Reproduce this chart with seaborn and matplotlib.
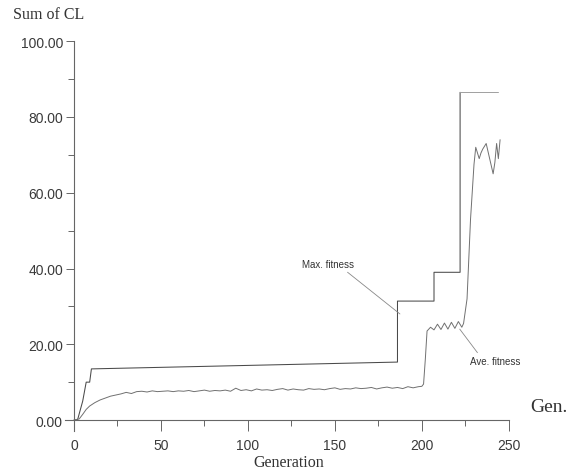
import numpy as np
import pandas as pd
import seaborn as sns
import matplotlib
matplotlib.use('Agg')
import matplotlib.pyplot as plt
from matplotlib.ticker import MultipleLocator, FormatStrFormatter

# max fitness (step curve, vertical jumps written as repeated generations)
max_gen = [0, 2, 5, 7, 9, 10, 186, 186, 207, 207, 222, 222, 244]
max_fit = [0, 0, 5, 10, 10, 13.5, 15.3, 31.4, 31.4, 39, 39, 86.5, 86.5]

# average fitness
ave_gen = [0, 3, 5, 7, 9, 12, 15, 18, 21, 24, 27, 30, 33, 36, 39, 42, 45, 48, 51, 54,
           57, 60, 63, 66, 69, 72, 75, 78, 81, 84, 87, 90, 93, 96, 99, 102, 105, 108,
           111, 114, 117, 120, 123, 126, 129, 132, 135, 138, 141, 144, 147, 150, 153,
           156, 159, 162, 165, 168, 171, 174, 177, 180, 183, 186, 189, 192, 195, 198,
           200, 201, 202, 203, 205, 207, 209, 211, 213, 215, 217, 219, 221, 223, 224,
           226, 228, 230, 231, 232, 233, 234, 235, 237, 239, 241, 242, 243, 244, 245]
ave_fit = [0, 0.3, 1.5, 2.8, 3.7, 4.6, 5.3, 5.8, 6.3, 6.6, 6.9, 7.3, 7.0, 7.5, 7.6, 7.4,
           7.7, 7.5, 7.6, 7.7, 7.5, 7.7, 7.6, 7.8, 7.5, 7.7, 7.9, 7.6, 7.8, 7.7, 7.9, 7.6,
           8.4, 7.8, 8.0, 7.7, 8.2, 7.9, 8.0, 7.8, 8.1, 8.3, 7.9, 8.2, 8.0, 7.9, 8.3, 8.1,
           8.2, 8.0, 8.3, 8.5, 8.1, 8.3, 8.2, 8.5, 8.3, 8.4, 8.6, 8.2, 8.5, 8.7, 8.4, 8.6,
           8.3, 8.8, 8.5, 8.8, 8.9, 9.5, 16, 23.5, 24.5, 23.8, 25.3, 23.9, 25.6, 24.0, 25.8,
           24.2, 26.0, 24.5, 25.5, 32, 53, 67.5, 72, 70.5, 69, 70.5, 71.5, 73, 69, 65, 68,
           73, 69, 74]

max_df = pd.DataFrame({'Generation': max_gen, 'Fitness': max_fit})
ave_df = pd.DataFrame({'Generation': ave_gen, 'Fitness': ave_fit})

sns.set_style('ticks')
plt.rcParams['font.family'] = ['Liberation Sans', 'DejaVu Sans']

fig = plt.figure(figsize=(5.73, 4.77), dpi=100)
ax = fig.add_axes([0.114, 0.0935, 0.780, 0.818])

# the top plateau is printed faint in the original
sns.lineplot(data=max_df.iloc[:-1], x='Generation', y='Fitness', estimator=None, sort=False,
             color='#4a4a4a', linewidth=0.75, ax=ax)
sns.lineplot(data=max_df.iloc[-2:], x='Generation', y='Fitness', estimator=None, sort=False,
             color='#a0a0a0', linewidth=0.7, ax=ax)
sns.lineplot(data=ave_df, x='Generation', y='Fitness', estimator=None, sort=False,
             color='#707070', linewidth=0.7, ax=ax)

ax.set_xlim(-5, 252)
ax.set_ylim(-3, 100)

# axes cross at the origin, like the original
ax.spines['top'].set_visible(False)
ax.spines['right'].set_visible(False)
ax.spines['left'].set_position(('data', 0))
ax.spines['bottom'].set_position(('data', 0))
ax.spines['left'].set_bounds(-3, 100)
ax.spines['bottom'].set_bounds(-5, 250)
for s in ['left', 'bottom']:
    ax.spines[s].set_color('#666666')
    ax.spines[s].set_linewidth(0.8)

ax.xaxis.set_major_locator(MultipleLocator(50))
ax.xaxis.set_minor_locator(MultipleLocator(25))
ax.yaxis.set_major_locator(MultipleLocator(20))
ax.yaxis.set_minor_locator(MultipleLocator(10))
ax.yaxis.set_major_formatter(FormatStrFormatter('%.2f'))

ax.tick_params(axis='x', which='major', direction='out', length=8, width=0.7,
               color='#666666', labelsize=10, labelcolor='#3a3a3a', pad=5)
ax.tick_params(axis='x', which='minor', direction='out', length=4, width=0.7, color='#666666')
ax.tick_params(axis='y', which='major', direction='out', length=6, width=0.7,
               color='#666666', labelsize=10, labelcolor='#3a3a3a', pad=2)
ax.tick_params(axis='y', which='minor', direction='out', length=4, width=0.7, color='#666666')

ax.set_xlabel('')
ax.set_ylabel('')

# annotations
ax.annotate('Max. fitness', xy=(187.4, 28), xytext=(131, 41.2),
            fontsize=7, color='#333333', va='center', ha='left',
            arrowprops=dict(arrowstyle='-', color='#888888', lw=0.6,
                            shrinkA=0, shrinkB=0, relpos=(0.8, 0)))
ax.annotate('Ave. fitness', xy=(221.8, 24), xytext=(227.6, 15.6),
            fontsize=7, color='#333333', va='center', ha='left',
            arrowprops=dict(arrowstyle='-', color='#888888', lw=0.6,
                            shrinkA=0, shrinkB=0, relpos=(0.2, 1.0)))

serif = ['Liberation Serif', 'DejaVu Serif']
fig.text(13 / 573, 1 - 15 / 477, 'Sum of CL', family=serif, fontsize=11.5,
         color='#333333', ha='left', va='center')
fig.text(530 / 573, 1 - 408 / 477, 'Gen.', family=serif, fontsize=14,
         color='#333333', ha='left', va='center')
fig.text(289 / 573, 1 - 463 / 477, 'Generation', family=serif, fontsize=11.5,
         color='#333333', ha='center', va='center')

fig.savefig('out.png', dpi=100)
plt.close(fig)
